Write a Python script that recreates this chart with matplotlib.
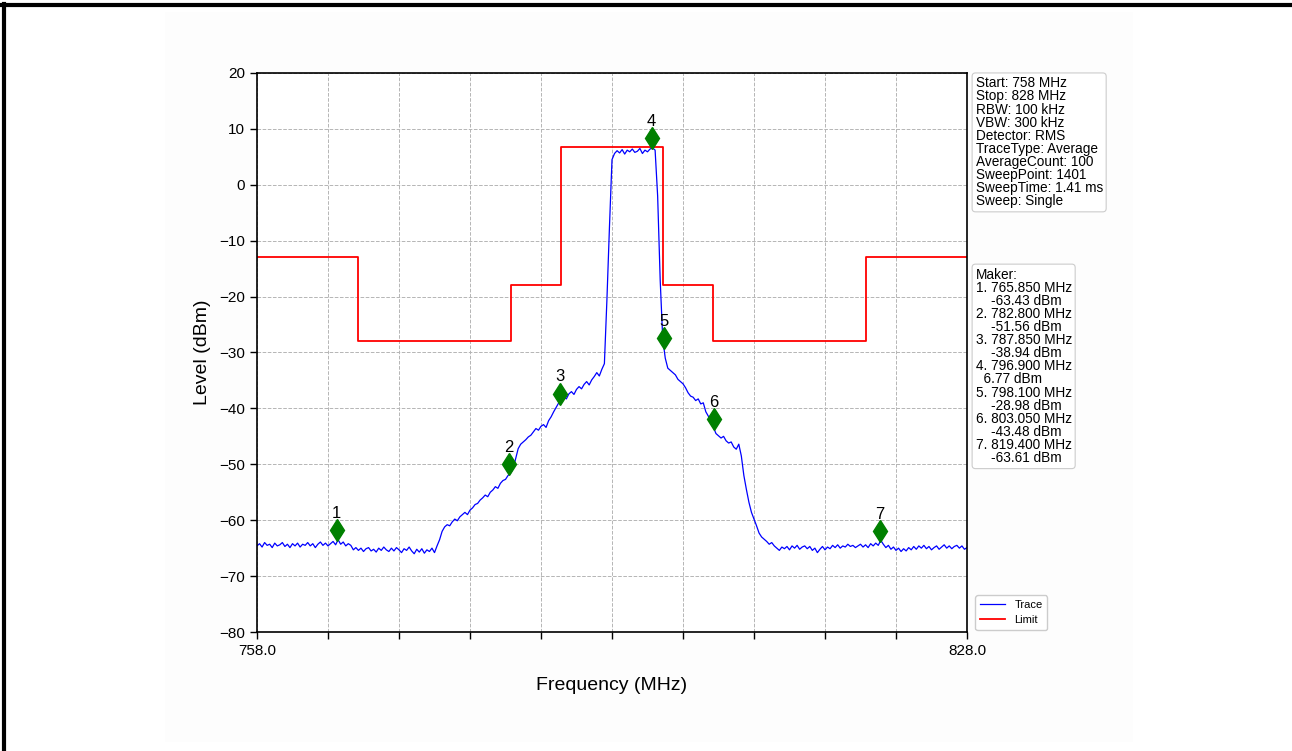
import numpy as np
import matplotlib
matplotlib.use('Agg')
import matplotlib.pyplot as plt
from matplotlib.lines import Line2D
from matplotlib.patches import Rectangle

plt.rcParams['font.family'] = ['Liberation Sans', 'DejaVu Sans']

# sweep setup
start_mhz = 758.0
stop_mhz = 828.0
step_mhz = 0.25
settings = ['Start: 758 MHz', 'Stop: 828 MHz', 'RBW: 100 kHz', 'VBW: 300 kHz',
            'Detector: RMS', 'TraceType: Average', 'AverageCount: 100',
            'SweepPoint: 1401', 'SweepTime: 1.41 ms', 'Sweep: Single']

# trace level (dBm), one row per MHz, 0.25 MHz apart
trace_level = [
    -64.6, -64.2, -64.8, -64.0,  # 758
    -64.5, -64.3, -64.9, -64.1,
    -64.6, -64.4, -64.0, -64.7,  # 760
    -64.3, -64.9, -64.2, -64.6,
    -64.1, -64.8, -64.3, -64.5,
    -64.0, -64.6, -64.2, -64.9,
    -64.3, -63.9, -64.5, -64.1,
    -64.6, -64.2, -63.8, -64.4,  # 765
    -63.5, -64.3, -63.9, -64.6,
    -64.2, -64.5, -65.3, -64.9,
    -65.4, -65.0, -65.6, -65.1,
    -64.9, -65.5, -65.2, -65.7,
    -65.0, -65.4, -64.8, -65.3,  # 770
    -65.6, -65.0, -65.5, -64.9,
    -65.3, -65.8, -65.1, -65.4,
    -64.8, -65.5, -66.0, -65.2,
    -65.7, -65.1, -65.9, -65.3,
    -65.6, -65.0, -65.8, -64.6,  # 775
    -63.5, -62.0, -61.2, -60.8,
    -61.0, -60.3, -59.8, -60.1,
    -59.4, -59.0, -58.6, -59.0,
    -58.2, -57.8, -57.2, -57.0,
    -56.4, -56.0, -55.5, -55.8,  # 780
    -55.0, -54.6, -54.0, -54.3,
    -53.4, -52.9, -52.7, -52.0,
    -51.6, -50.8, -49.0, -47.2,
    -46.4, -46.0, -45.6, -45.1,
    -44.8, -44.2, -43.6, -43.9,  # 785
    -43.2, -42.9, -43.4, -42.2,
    -41.5, -40.6, -39.8, -39.0,
    -38.4, -37.9, -38.3, -37.4,
    -37.0, -37.5, -36.6, -36.1,
    -36.5, -35.7, -35.2, -35.8,  # 790
    -34.9, -34.3, -33.6, -34.2,
    -33.0, -32.0, -20.5, -7.5,
    4.5, 5.6, 6.1, 5.7,
    6.3, 5.5, 6.2, 5.9,
    6.4, 5.8, 6.0, 6.5,  # 795
    5.6, 6.2, 5.9, 6.4,
    6.6, 6.2, -2.0, -17.0,
    -27.5, -31.0, -32.8, -33.2,
    -33.6, -34.0, -34.8, -35.2,
    -35.6, -36.3, -37.2, -37.8,  # 800
    -38.0, -38.6, -38.3, -39.2,
    -39.0, -40.6, -41.4, -42.2,
    -43.4, -44.5, -44.9, -45.3,
    -45.0, -45.8, -46.2, -46.0,
    -46.9, -47.3, -46.4, -48.5,  # 805
    -52.0, -54.5, -56.8, -58.6,
    -59.8, -61.0, -62.3, -63.0,
    -63.4, -63.8, -64.3, -64.0,
    -64.6, -65.0, -65.4, -64.8,
    -65.1, -64.7, -65.3, -64.6,  # 810
    -65.0, -64.5, -65.2, -64.8,
    -64.6, -65.1, -64.7, -65.4,
    -65.0, -65.8, -65.2, -64.7,
    -65.3, -64.8, -65.1, -64.5,
    -64.9, -64.4, -65.0, -64.6,  # 815
    -64.8, -64.3, -64.7, -64.5,
    -64.9, -64.6, -64.3, -64.8,
    -64.4, -64.9, -64.2, -64.6,
    -64.1, -64.5, -63.6, -64.3,
    -64.9, -64.5, -65.2, -64.8,  # 820
    -65.4, -65.0, -65.6, -65.1,
    -65.5, -64.9, -65.3, -64.7,
    -65.2, -64.6, -65.0, -64.5,
    -65.1, -64.7, -65.3, -64.9,
    -64.6, -65.2, -64.8, -64.4,  # 825
    -65.0, -64.6, -65.1, -64.7,
    -64.5, -65.0, -64.6, -65.2,
    -64.9,                        # 828
]
trace_freq = start_mhz + step_mhz * np.arange(len(trace_level))

# spectrum emission mask (step edges)
limit_freq = [758, 768, 783, 788, 798, 803, 818, 828]
limit_level = [-13, -28, -18, 6.77, -18, -28, -13, -13]

# markers
marker_freq = [765.85, 782.80, 787.85, 796.90, 798.10, 803.05, 819.40]
marker_level = [-63.43, -51.56, -38.94, 6.77, -28.98, -43.48, -63.61]

fig = plt.figure(figsize=(12.92, 7.51), dpi=100)
# faint backdrop of the pasted image + page frame
fig.add_artist(Rectangle((165/1292, 1 - 742/751), 968/1292, 730/751,
                         transform=fig.transFigure, fc='#fdfdfd', ec='none', zorder=-5))
fig.add_artist(Line2D([0, 1], [1 - 4.5/751, 1 - 4.5/751], color='black', lw=3))
fig.add_artist(Line2D([4/1292, 4/1292], [0, 1 - 4/751], color='black', lw=3))

ax = fig.add_axes([257/1292, 1 - 632/751, 710/1292, 559/751])
ax.set_facecolor('white')

ax.plot(trace_freq, trace_level, color='blue', lw=0.9, label='Trace')
ax.plot(limit_freq, limit_level, color='red', lw=1.3, drawstyle='steps-post', label='Limit')

for i, (f, v) in enumerate(zip(marker_freq, marker_level)):
    ax.plot(f, v + 1.6, marker='d', color='green', ms=11.5, ls='none')
    ax.annotate(str(i + 1), (f, v + 1.6), xytext=(0, 12), textcoords='offset points',
                ha='center', va='center', fontsize=12)

ax.set_xlim(start_mhz, stop_mhz)
ax.set_ylim(-80, 20)
xt = np.arange(758, 829, 7)
ax.set_xticks(xt)
ax.set_xticklabels(['758.0'] + [''] * (len(xt) - 2) + ['828.0'])
ax.set_yticks(np.arange(-80, 21, 10))
ax.tick_params(labelsize=11, length=5, width=1)
ax.grid(True, ls='--', color='#b5b5b5', lw=0.7)
ax.set_axisbelow(True)
for s in ax.spines.values():
    s.set_linewidth(1.2)

ax.set_xlabel('Frequency (MHz)', fontsize=14, labelpad=14)
ax.set_ylabel('Level (dBm)', fontsize=14, labelpad=6)

box = dict(boxstyle='round,pad=0.25', fc='white', ec='#cccccc', lw=0.8)
ax.text(1.012, 0.994, '\n'.join(settings), transform=ax.transAxes, va='top', ha='left',
        fontsize=9.8, linespacing=0.92, bbox=box)

lines = ['Maker:']
for i, (f, v) in enumerate(zip(marker_freq, marker_level)):
    lines.append(f'{i + 1}. {f:.3f} MHz')
    lines.append(('    ' if v < 0 else '  ') + f'{v:.2f} dBm')
ax.text(1.012, 0.652, '\n'.join(lines), transform=ax.transAxes, va='top', ha='left',
        fontsize=9.8, linespacing=0.92, bbox=box)

ax.legend(loc='lower left', bbox_to_anchor=(1.004, -0.006), fontsize=8,
          handlelength=2.3, fancybox=True, framealpha=1, edgecolor='#cccccc')

fig.savefig('out.png', dpi=100)
